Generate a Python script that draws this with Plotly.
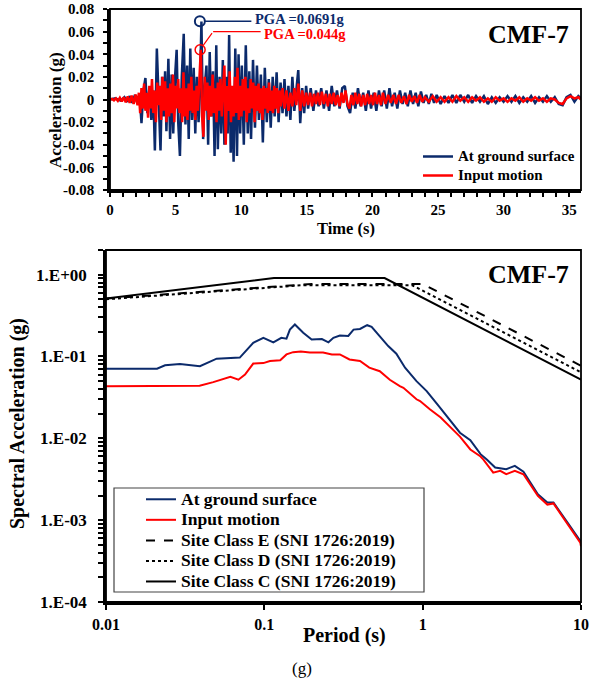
import plotly.graph_objects as go

W, H = 594, 683

# ---------------- Time history (top panel) ----------------
time_surface = [0.0, 0.4, 0.8, 1.1, 1.3, 1.5, 1.7, 1.9, 2.1, 2.25, 2.4, 2.55, 2.7, 2.85, 3.0, 3.15, 3.3,
                3.42, 3.57, 3.72, 3.85, 3.97, 4.1, 4.2, 4.3, 4.45, 4.58, 4.7, 4.82, 4.95, 5.08, 5.2, 5.33,
                5.47, 5.62, 5.75, 5.88, 6.0, 6.12, 6.25, 6.38, 6.5, 6.62, 6.75, 6.85, 6.97, 7.1, 7.22, 7.35,
                7.48, 7.6, 7.72, 7.85, 7.97, 8.1, 8.22, 8.35, 8.48, 8.6, 8.72, 8.85, 8.97, 9.08, 9.2, 9.3,
                9.42, 9.55, 9.68, 9.8, 9.92, 10.05, 10.2, 10.35, 10.5, 10.62, 10.75, 10.9, 11.05, 11.2,
                11.35, 11.5, 11.65, 11.8, 11.95, 12.1, 12.25, 12.4, 12.55, 12.7, 12.85, 13.0, 13.15, 13.3,
                13.45, 13.6, 13.75, 13.9, 14.05, 14.2, 14.35, 14.5, 14.65, 14.8, 14.95, 15.1, 15.3, 15.5,
                15.7, 15.9, 16.1, 16.3, 16.5, 16.7, 16.9, 17.1, 17.3, 17.5, 17.7, 17.9, 18.1, 18.3, 18.5,
                18.7, 18.9, 19.1, 19.3, 19.5, 19.7, 19.9, 20.1, 20.3, 20.5, 20.7, 20.9, 21.1, 21.3, 21.5,
                21.7, 21.9, 22.1, 22.3, 22.5, 22.7, 22.9, 23.1, 23.3, 23.5, 23.7, 23.9, 24.1, 24.3, 24.5,
                24.7, 24.9, 25.2, 25.5, 25.8, 26.1, 26.4, 26.7, 27.0, 27.3, 27.6, 27.9, 28.2, 28.5, 28.8,
                29.1, 29.4, 29.7, 30.0, 30.3, 30.6, 30.9, 31.2, 31.5, 31.8, 32.1, 32.4, 32.7, 33.0, 33.3,
                33.6, 33.9, 34.2, 34.5, 34.8, 35.1, 35.4, 35.7, 35.9]
acc_surface = [0.0, 0.001, -0.001, 0.002, -0.002, 0.003, -0.003, 0.004, -0.004, 0.005, -0.021, 0.008, 0.019,
               -0.012, 0.010, -0.018, 0.008, -0.045, 0.045, -0.010, -0.045, 0.020, -0.015, 0.025, -0.028,
               0.036, -0.035, 0.022, -0.030, 0.018, 0.044, -0.020, -0.050, 0.020, 0.058, -0.022, 0.030,
               -0.035, 0.045, -0.018, 0.028, -0.030, 0.020, -0.020, 0.005, 0.069, -0.035, 0.010, 0.030,
               -0.040, 0.042, -0.015, 0.025, -0.050, 0.048, -0.044, 0.020, -0.030, 0.035, -0.040, 0.020,
               -0.030, 0.057, -0.047, 0.010, -0.055, 0.045, -0.050, 0.040, -0.030, 0.030, -0.040, 0.048,
               -0.030, 0.025, -0.035, 0.035, -0.025, 0.030, -0.018, 0.022, -0.038, 0.028, -0.020, 0.018,
               -0.025, 0.020, -0.015, 0.024, -0.020, 0.015, -0.012, 0.018, -0.015, 0.012, -0.018, 0.020,
               -0.010, 0.012, 0.026, -0.021, 0.010, -0.012, 0.012, -0.008, 0.010, -0.010, 0.008, -0.006,
               0.010, -0.008, 0.008, -0.010, 0.012, -0.006, 0.008, -0.008, 0.010, 0.012, -0.006, -0.012,
               0.006, -0.008, 0.010, -0.006, 0.006, -0.010, 0.008, -0.008, 0.006, -0.010, 0.008, -0.006,
               0.008, -0.008, 0.010, -0.006, 0.006, -0.008, 0.008, -0.004, 0.006, -0.006, 0.008, -0.004,
               0.006, -0.006, 0.007, -0.003, 0.004, -0.004, 0.005, -0.003, 0.004, -0.004, 0.003, -0.003,
               0.004, -0.003, 0.004, -0.002, 0.004, -0.003, 0.003, -0.002, 0.003, -0.004, 0.002, -0.003,
               0.002, -0.002, 0.003, -0.002, 0.003, -0.003, 0.002, -0.002, 0.003, -0.003, 0.002, -0.002,
               0.003, -0.002, 0.002, -0.004, -0.005, 0.002, 0.004, -0.002, 0.003, 0.001]

time_input = [0.0, 0.15, 0.3, 0.45, 0.6, 0.75, 0.9, 1.05, 1.2, 1.35, 1.5, 1.65, 1.8, 1.95, 2.1, 2.2, 2.3,
              2.4, 2.5, 2.6, 2.7, 2.8, 2.9, 3.0, 3.1, 3.2, 3.3, 3.4, 3.5, 3.6, 3.7, 3.8, 3.9, 4.0, 4.1,
              4.2, 4.3, 4.4, 4.5, 4.6, 4.7, 4.8, 4.9, 5.0, 5.1, 5.2, 5.3, 5.4, 5.5, 5.6, 5.7, 5.8, 5.9,
              6.0, 6.1, 6.2, 6.3, 6.4, 6.5, 6.6, 6.7, 6.8, 6.92, 7.02, 7.12, 7.22, 7.32, 7.42, 7.52, 7.62,
              7.72, 7.82, 7.92, 8.02, 8.12, 8.22, 8.32, 8.42, 8.52, 8.62, 8.72, 8.82, 8.92, 9.02, 9.12,
              9.22, 9.32, 9.42, 9.52, 9.62, 9.72, 9.82, 9.92, 10.02, 10.12, 10.22, 10.32, 10.42, 10.52,
              10.62, 10.72, 10.82, 10.92, 11.02, 11.12, 11.22, 11.32, 11.42, 11.52, 11.62, 11.72, 11.82,
              11.92, 12.02, 12.12, 12.22, 12.32, 12.42, 12.52, 12.62, 12.72, 12.82, 12.92, 13.02, 13.15,
              13.3, 13.45, 13.6, 13.75, 13.9, 14.05, 14.2, 14.35, 14.5, 14.65, 14.8, 14.95, 15.1, 15.25,
              15.4, 15.55, 15.7, 15.85, 16.0, 16.15, 16.3, 16.45, 16.6, 16.75, 16.9, 17.05, 17.2, 17.35,
              17.5, 17.65, 17.8, 17.95, 18.1, 18.25, 18.4, 18.55, 18.7, 18.85, 19.0, 19.15, 19.3, 19.45,
              19.6, 19.75, 19.9, 20.05, 20.2, 20.35, 20.5, 20.65, 20.8, 21.0, 21.2, 21.4, 21.6, 21.8,
              22.0, 22.2, 22.4, 22.6, 22.8, 23.0, 23.2, 23.4, 23.6, 23.8, 24.0, 24.3, 24.6, 24.9, 25.2,
              25.5, 25.8, 26.1, 26.4, 26.7, 27.0, 27.3, 27.6, 27.9, 28.2, 28.5, 28.8, 29.1, 29.4, 29.7,
              30.0, 30.3, 30.6, 30.9, 31.2, 31.5, 31.8, 32.1, 32.4, 32.7, 33.0, 33.3, 33.6, 33.9, 34.2,
              34.5, 34.8, 35.1, 35.4, 35.7, 35.9]
acc_input = [0.0, 0.0005, -0.0007, 0.001, -0.0012, 0.0015, -0.0018, 0.002, -0.0025, 0.0028, -0.003, 0.0035,
             -0.004, 0.0045, -0.005, 0.006, -0.012, 0.010, -0.008, 0.014, -0.010, 0.006, -0.016, 0.012,
             -0.008, 0.018, -0.012, 0.008, -0.020, 0.015, -0.005, 0.012, -0.018, 0.020, -0.010, 0.016,
             -0.020, 0.010, -0.015, 0.014, -0.012, 0.022, -0.020, 0.012, -0.008, 0.018, -0.012, 0.010,
             -0.020, 0.024, -0.015, 0.010, -0.018, 0.014, -0.010, 0.020, -0.012, 0.008, -0.018, 0.012,
             -0.010, 0.015, 0.044, -0.015, -0.033, 0.020, -0.010, 0.015, -0.018, 0.012, -0.015, 0.022,
             -0.012, 0.010, -0.020, 0.015, -0.010, 0.018, -0.015, 0.010, 0.030, -0.040, 0.012, -0.010,
             0.025, -0.020, 0.012, -0.015, 0.020, -0.012, 0.028, -0.018, 0.012, -0.015, 0.018, -0.010,
             0.020, -0.020, 0.010, -0.012, 0.018, -0.008, 0.015, -0.020, 0.012, -0.010, 0.014, -0.012,
             0.010, -0.018, 0.012, -0.008, 0.010, -0.012, 0.015, -0.010, 0.008, -0.012, 0.012, -0.008,
             0.010, -0.012, 0.008, -0.006, 0.010, -0.008, 0.008, -0.010, 0.006, -0.006, 0.010, -0.005,
             0.014, -0.010, 0.008, -0.006, 0.006, -0.005, 0.006, -0.006, 0.005, -0.004, 0.006, -0.005,
             0.007, -0.004, 0.005, -0.006, 0.005, -0.004, 0.006, -0.005, 0.004, -0.006, 0.006, -0.003,
             0.008, -0.004, -0.008, 0.004, -0.005, 0.006, -0.004, 0.005, -0.006, 0.004, -0.005, 0.005,
             -0.004, 0.004, -0.005, 0.006, -0.004, 0.004, -0.005, 0.006, -0.004, 0.004, -0.003, 0.004,
             -0.004, 0.004, -0.003, 0.003, -0.004, 0.004, -0.002, 0.003, -0.003, 0.004, -0.002, 0.002,
             -0.002, 0.003, -0.002, 0.002, -0.002, 0.002, -0.002, 0.003, -0.001, 0.002, -0.002, 0.002,
             -0.001, 0.002, -0.002, 0.001, -0.002, 0.002, -0.001, 0.001, -0.002, 0.001, -0.001, 0.002,
             -0.002, 0.001, -0.001, 0.002, -0.001, 0.001, -0.002, 0.001, 0.0, -0.003, -0.004, 0.001,
             0.003, 0.001, 0.002, 0.0]

pga_surface_time, pga_surface = 6.85, 0.0691
pga_input_time, pga_input = 6.87, 0.044

time_tick_labels = ["0", "5", "10", "15", "20", "25", "30", "35"]
acc_tick_labels = ["-0.08", "-0.06", "-0.04", "-0.02", "0", "0.02", "0.04", "0.06", "0.08"]

# ---------------- Response spectra (bottom panel) ----------------
period_surface = [0.01, 0.015, 0.021, 0.0236, 0.0293, 0.0392, 0.0422, 0.05, 0.07, 0.0732, 0.0851, 0.0986,
                  0.114, 0.128, 0.138, 0.145, 0.156, 0.176, 0.199, 0.231, 0.254, 0.273, 0.30, 0.339, 0.366,
                  0.402, 0.446, 0.476, 0.536, 0.606, 0.682, 0.774, 0.914, 1.06, 1.25, 1.50, 1.64, 1.72,
                  2.0, 2.32, 2.54, 2.87, 3.37, 3.82, 4.33, 5.34, 6.13, 6.7, 8.2, 9.9, 10.0]
sa_surface = [0.071, 0.071, 0.071, 0.078, 0.081, 0.076, 0.081, 0.094, 0.097, 0.106, 0.147, 0.169,
              0.149, 0.169, 0.165, 0.213, 0.246, 0.195, 0.161, 0.163, 0.149, 0.169, 0.180, 0.178, 0.213,
              0.217, 0.241, 0.230, 0.177, 0.134, 0.108, 0.073, 0.050, 0.0378, 0.0255, 0.0163, 0.0129,
              0.0117, 0.0095, 0.0064, 0.0055, 0.0044, 0.0042, 0.0046, 0.0039, 0.00207, 0.00164, 0.00164,
              0.00094, 0.00056, 0.00054]

period_input = [0.01, 0.02, 0.039, 0.0476, 0.061, 0.0686, 0.0755, 0.0851, 0.0986, 0.1085, 0.126, 0.138,
                0.152, 0.17, 0.194, 0.235, 0.267, 0.30, 0.345, 0.402, 0.46, 0.536, 0.62, 0.717, 0.756,
                0.914, 0.963, 1.11, 1.3, 1.64, 1.72, 2.0, 2.32, 2.42, 2.79, 3.09, 3.37, 3.82, 4.33, 5.34,
                6.13, 6.7, 8.2, 9.9, 10.0]
sa_input = [0.0434, 0.044, 0.044, 0.0486, 0.0565, 0.052, 0.060, 0.082, 0.083, 0.088, 0.090, 0.106,
            0.113, 0.115, 0.112, 0.112, 0.106, 0.106, 0.092, 0.088, 0.073, 0.066, 0.052, 0.0434, 0.0415,
            0.030, 0.0285, 0.0226, 0.018, 0.0115, 0.0105, 0.0073, 0.0060, 0.0055, 0.0038, 0.0040,
            0.00364, 0.0040, 0.00364, 0.00198, 0.00155, 0.0016, 0.00091, 0.00053, 0.00048]

period_E = [0.01, 0.2, 1.0, 10.0]
sa_E = [0.51, 0.77, 0.77, 0.077]
period_D = [0.01, 0.17, 0.86, 10.0]
sa_D = [0.50, 0.74, 0.74, 0.064]
period_C = [0.01, 0.115, 0.575, 10.0]
sa_C = [0.51, 0.91, 0.91, 0.052]

period_major = [0.01, 0.1, 1, 10]
period_tick_labels = ["0.01", "0.1", "1", "10"]
sa_major = [1e-4, 1e-3, 1e-2, 1e-1, 1e0]
sa_tick_labels = ["1.E-04", "1.E-03", "1.E-02", "1.E-01", "1.E+00"]

top_legend_names = ["At ground surface", "Input motion"]
bottom_legend_names = ["At ground surface", "Input motion", "Site Class E (SNI 1726:2019)",
                       "Site Class D (SNI 1726:2019)", "Site Class C (SNI 1726:2019)"]

NAVY = "#0B2A6B"
RED = "#FF0000"
FONT = "Liberation Serif"


def fx(px):
    return px / W


def fy(py):
    return 1 - py / H


def bold(size, color="black"):
    return dict(family=FONT, size=size, color=color, weight="bold")


def big(name, size):
    return '<span style="font-size:%spx">%s</span>' % (size, name)


fig = go.Figure()

# top panel traces
fig.add_trace(go.Scatter(x=time_surface, y=acc_surface, mode="lines", name=big(top_legend_names[0], 15),
                         line=dict(color=NAVY, width=2.5), xaxis="x", yaxis="y", legend="legend"))
fig.add_trace(go.Scatter(x=time_input, y=acc_input, mode="lines", name=big(top_legend_names[1], 15),
                         line=dict(color=RED, width=2.5), xaxis="x", yaxis="y", legend="legend"))
fig.add_trace(go.Scatter(x=[pga_surface_time], y=[pga_surface], mode="markers", showlegend=False,
                         marker=dict(symbol="circle-open", size=10, color=NAVY, line=dict(width=2)),
                         xaxis="x", yaxis="y"))
fig.add_trace(go.Scatter(x=[pga_input_time], y=[pga_input], mode="markers", showlegend=False,
                         marker=dict(symbol="circle-open", size=10, color=RED, line=dict(width=1.5)),
                         xaxis="x", yaxis="y"))

# bottom panel traces
styles = [dict(color=NAVY, width=2), dict(color=RED, width=2),
          dict(color="black", width=2, dash="dash"), dict(color="black", width=2, dash="dot"),
          dict(color="black", width=2)]
series = [(period_surface, sa_surface), (period_input, sa_input), (period_E, sa_E),
          (period_D, sa_D), (period_C, sa_C)]
for (px_, py_), nm, st in zip(series, bottom_legend_names, styles):
    fig.add_trace(go.Scatter(x=px_, y=py_, mode="lines", name=big(nm, 17.5), line=st,
                             xaxis="x2", yaxis="y2", legend="legend2"))

# tick positions
time_major = [float(t) for t in time_tick_labels]
time_all = list(range(0, 36))
time_all_text = [str(v) if float(v) in time_major else "" for v in time_all]
acc_major = [float(a) for a in acc_tick_labels]
acc_all = [round(-0.08 + 0.01 * i, 2) for i in range(17)]
acc_all_text = []
for a in acc_all:
    lab = ""
    for v, t in zip(acc_major, acc_tick_labels):
        if abs(v - a) < 1e-9:
            lab = t
    acc_all_text.append(lab)

period_all = []
for d in [0.01, 0.1, 1]:
    for m in range(1, 10):
        period_all.append(round(d * m, 4))
period_all.append(10)

sa_all = []
sa_all_text = []
for k, d in enumerate(sa_major[:-1]):
    for m in range(1, 10):
        sa_all.append(d * m)
        sa_all_text.append(sa_tick_labels[k] if m == 1 else "")
sa_all.append(1.0)
sa_all_text.append(sa_tick_labels[-1])
sa_all.append(2.0)
sa_all_text.append("")

common = dict(showgrid=False, zeroline=False, color="black", tickcolor="black")

top_x_dom = [fx(110), fx(581)]
top_y_dom = [fy(190), fy(9)]
bot_x_dom = [fx(106), fx(581)]
bot_y_dom = [fy(602), fy(250)]

fig.update_layout(
    width=W, height=H,
    margin=dict(l=0, r=0, t=0, b=0, autoexpand=False),
    paper_bgcolor="white", plot_bgcolor="white",
    font=dict(family=FONT, color="black"),
    xaxis=dict(domain=top_x_dom, anchor="y", range=[0, 35.9], tickmode="array",
               tickvals=time_all, ticktext=time_all_text, ticks="outside", ticklen=4, tickwidth=1.5,
               showline=True, linewidth=2.5, linecolor="black", tickfont=bold(15),
               ticklabelstandoff=0, **common),
    xaxis3=dict(domain=top_x_dom, anchor="y", overlaying="x", range=[0, 35.9], tickmode="array",
                tickvals=time_all, ticks="inside", ticklen=4, tickwidth=1.5, showticklabels=False,
                showline=False, **common),
    yaxis=dict(domain=top_y_dom, anchor="x", range=[-0.08, 0.08], tickmode="array",
               tickvals=acc_all, ticktext=acc_all_text, ticks="outside", ticklen=4, tickwidth=1.5,
               showline=True, linewidth=2.5, linecolor="black", tickfont=bold(15),
               ticklabelstandoff=6, **common),
    yaxis3=dict(domain=top_y_dom, anchor="x", overlaying="y", range=[-0.08, 0.08], tickmode="array",
                tickvals=acc_all, ticks="inside", ticklen=4, tickwidth=1.5, showticklabels=False,
                showline=False, **common),
    xaxis2=dict(domain=bot_x_dom, anchor="y2", type="log", range=[-2, 1], tickmode="array",
                tickvals=period_major, ticktext=period_tick_labels, ticks="outside", ticklen=5,
                tickwidth=1.5, showline=True, linewidth=2.5, linecolor="black", tickfont=bold(16),
                ticklabelstandoff=1, **common),
    xaxis4=dict(domain=bot_x_dom, anchor="y2", overlaying="x2", type="log", range=[-2, 1],
                tickmode="array", tickvals=period_all, ticks="inside", ticklen=5, tickwidth=1.5,
                showticklabels=False, showline=False, **common),
    yaxis2=dict(domain=bot_y_dom, anchor="x2", type="log", range=[-4, 0.301], tickmode="array",
                tickvals=sa_all, ticktext=sa_all_text, ticks="outside", ticklen=5, tickwidth=1.5,
                showline=True, linewidth=2.5, linecolor="black", tickfont=bold(17),
                ticklabelstandoff=8, **common),
    yaxis4=dict(domain=bot_y_dom, anchor="x2", overlaying="y2", type="log", range=[-4, 0.301],
                tickmode="array", tickvals=sa_all, ticks="inside", ticklen=5, tickwidth=1.5,
                showticklabels=False, showline=False, **common),
    legend=dict(x=fx(418), y=fy(142), xanchor="left", yanchor="top", bgcolor="rgba(0,0,0,0)",
                borderwidth=0, font=bold(10.8), tracegroupgap=0, itemwidth=30),
    legend2=dict(x=fx(141), y=fy(484), xanchor="left", yanchor="top", bgcolor="rgba(0,0,0,0)",
                 borderwidth=0, font=bold(13.5), tracegroupgap=0, itemwidth=30),
    showlegend=True,
)

# frames (top/right borders) and legend box
fig.add_shape(type="rect", xref="paper", yref="paper", x0=top_x_dom[0], x1=top_x_dom[1],
              y0=top_y_dom[0], y1=top_y_dom[1], line=dict(color="black", width=1.8), layer="above")
fig.add_shape(type="rect", xref="paper", yref="paper", x0=bot_x_dom[0], x1=bot_x_dom[1],
              y0=bot_y_dom[0], y1=bot_y_dom[1], line=dict(color="black", width=1.8), layer="above")
fig.add_shape(type="rect", xref="paper", yref="paper", x0=fx(114), x1=fx(424), y0=fy(592), y1=fy(488),
              line=dict(color="#444444", width=1.2), fillcolor="white", layer="above")


def label(text, px, py, font, angle=0):
    return dict(text=text, x=fx(px), y=fy(py), xref="paper", yref="paper", showarrow=False,
                xanchor="center", yanchor="middle", textangle=angle, font=font)


annotations = [
    label("CMF-7", 528, 34, bold(26)),
    label("CMF-7", 528, 274, bold(26)),
    label("Time (s)", 346, 228, bold(16.5)),
    label("Acceleration (g)", 56, 110, bold(17), -90),
    label("Spectral Acceleration (g)", 17, 424, bold(20), -90),
    label("Period (s)", 344, 635, bold(20)),
    label("(g)", 302, 668, dict(family=FONT, size=17, color="black")),
    # PGA leader lines
    dict(text="", x=pga_surface_time, y=pga_surface, xref="x", yref="y", showarrow=True,
         arrowhead=0, arrowwidth=1.5, arrowcolor=NAVY, ax=53, ay=0, standoff=5),
    dict(text="PGA =0.0691g", x=pga_surface_time, y=pga_surface, xref="x", yref="y",
         showarrow=False, xanchor="left", yanchor="middle", xshift=53, yshift=2,
         font=bold(14.5, NAVY)),
    dict(text="", x=pga_input_time, y=pga_input, xref="x", yref="y", showarrow=True,
         arrowhead=0, arrowwidth=1.2, arrowcolor=RED, ax=13, ay=-18, standoff=5),
    dict(text="", x=pga_input_time, y=pga_input, xref="x", yref="y", showarrow=True,
         arrowhead=0, arrowwidth=1.2, arrowcolor=RED, ax=49, ay=0, standoff=0, xshift=13, yshift=18),
    dict(text="PGA =0.044g", x=pga_input_time, y=pga_input, xref="x", yref="y",
         showarrow=False, xanchor="left", yanchor="middle", xshift=62, yshift=16,
         font=bold(14.5, RED)),
]
fig.update_layout(annotations=annotations)

fig.write_html("out.html")
